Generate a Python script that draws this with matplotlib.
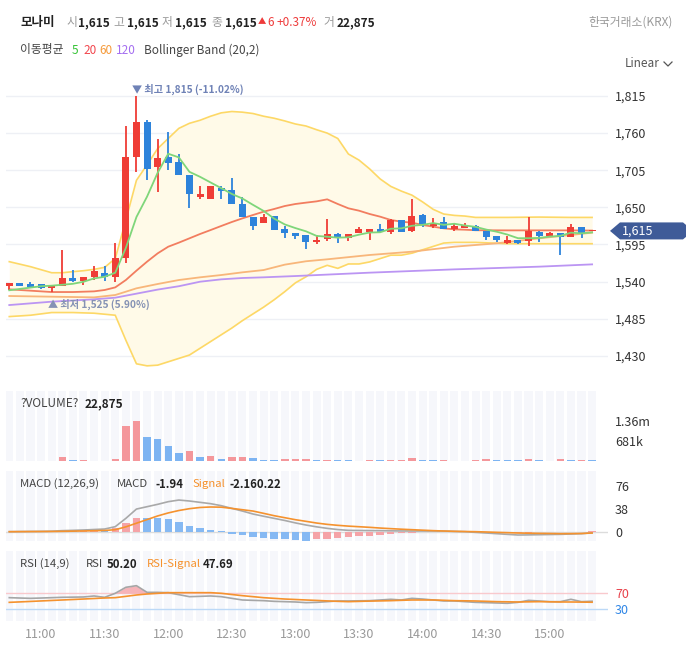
import matplotlib
matplotlib.use('Agg')
import matplotlib.pyplot as plt
import numpy as np
import pandas as pd
from matplotlib.patches import Polygon
from matplotlib.lines import Line2D
from matplotlib.transforms import IdentityTransform

plt.rcParams['font.family'] = ['Noto Sans CJK KR', 'DejaVu Sans']

# ---------------- data ----------------
times = ['11:00', '11:30', '12:00', '12:30', '13:00', '13:30', '14:00', '14:30', '15:00']
time_idx = [3, 9, 15, 21, 27, 33, 39, 45, 51]

opens = [1534, 1538, 1536, 1536, 1530, 1534, 1545, 1541, 1546, 1553,
         1547, 1575, 1724, 1776, 1709, 1725, 1717, 1698, 1665, 1662,
         1678, 1676, 1655, 1636, 1627, 1637, 1618, 1612, 1609, 1599,
         1603, 1611, 1605, 1612, 1613, 1618, 1613, 1631, 1615, 1639,
         1622, 1628, 1618, 1620, 1622, 1615, 1607, 1597, 1601, 1600,
         1613, 1607, 1612, 1606, 1621, 1615]
highs = [1538, 1538, 1539, 1536, 1534, 1587, 1557, 1547, 1563, 1563,
         1597, 1771, 1815, 1779, 1751, 1762, 1729, 1698, 1682, 1682,
         1682, 1694, 1665, 1636, 1640, 1637, 1622, 1612, 1609, 1609,
         1632, 1612, 1611, 1621, 1618, 1625, 1633, 1631, 1662, 1640,
         1634, 1636, 1625, 1627, 1624, 1615, 1607, 1608, 1601, 1635,
         1615, 1614, 1612, 1625, 1621, 1615]
lows = [1528, 1534, 1532, 1529, 1525, 1534, 1539, 1535, 1542, 1541,
        1540, 1567, 1702, 1691, 1673, 1705, 1698, 1649, 1662, 1662,
        1663, 1655, 1635, 1617, 1627, 1617, 1605, 1603, 1588, 1595,
        1600, 1597, 1600, 1612, 1601, 1613, 1611, 1614, 1613, 1621,
        1620, 1618, 1615, 1620, 1615, 1601, 1599, 1595, 1595, 1592,
        1599, 1607, 1580, 1606, 1604, 1615]
closes = [1538, 1534, 1532, 1531, 1534, 1545, 1541, 1547, 1556, 1546,
          1575, 1725, 1776, 1707, 1723, 1716, 1698, 1669, 1670, 1681,
          1674, 1655, 1635, 1623, 1636, 1617, 1612, 1608, 1599, 1602,
          1611, 1605, 1611, 1618, 1618, 1613, 1631, 1614, 1637, 1625,
          1626, 1618, 1622, 1624, 1615, 1606, 1602, 1601, 1597, 1615,
          1608, 1612, 1606, 1621, 1610, 1615]
ma5_head = [1527, 1529, 1531, 1533]

bb_idx = [0, 2, 4, 5, 6, 7, 8, 9] + list(range(10, 45)) + [47, 50, 53, 55]
bb_upper = [1569.4, 1562, 1553, 1553, 1554.6, 1556, 1558, 1561,
            1574, 1631, 1690, 1713, 1737, 1752, 1767, 1774.5, 1779, 1785,
            1790, 1792, 1791, 1789, 1785, 1782, 1778, 1773.5, 1770.5, 1765,
            1760, 1752, 1729, 1720, 1707, 1692, 1681, 1674, 1668, 1658,
            1647, 1640, 1638, 1637, 1635,
            1635, 1635.5, 1635, 1635]
bb_lower = [1488, 1490, 1494, 1494, 1494, 1493.5, 1493, 1491.5,
            1490, 1453, 1418, 1415, 1416, 1421, 1426, 1431, 1441, 1451,
            1461, 1471, 1482, 1492, 1502, 1513, 1525, 1538, 1547, 1558,
            1564, 1559.5, 1566, 1566, 1569, 1574, 1579, 1579, 1582, 1587,
            1592, 1597, 1598, 1598, 1598,
            1596, 1596, 1596, 1596]

ma20_idx = [0, 2, 4, 6, 8, 9] + list(range(10, 45)) + [47, 50, 53, 55]
ma20 = [1528.4, 1526.4, 1524.4, 1524.4, 1525.4, 1527.4,
        1531.3, 1542.2, 1556.1, 1569.4, 1581.7, 1591.6, 1597.6, 1604, 1610.4, 1616.3,
        1622.3, 1628.2, 1633.6, 1638.6, 1643.5, 1647.5, 1651.9, 1654.9, 1656.9, 1658.8,
        1661.8, 1654.9, 1648.5, 1645, 1640.1, 1636.1, 1631.2, 1628.7, 1627.2, 1623.8,
        1621.3, 1618.8, 1617.3, 1616.8, 1616,
        1615.8, 1615.8, 1615.8, 1615.5]

ma60_idx = [0, 4, 8, 10, 11, 12, 14, 16, 18, 20, 22, 24, 26, 28, 30, 34, 38, 42, 46, 50, 53, 55]
ma60 = [1518.5, 1517.5, 1516.5, 1520, 1524.9, 1529.9, 1536.3, 1542.2, 1546.2, 1549.6, 1553.6,
        1557, 1565, 1570, 1572.9, 1579.3, 1584.2, 1591.6, 1596.6, 1604, 1609, 1612.4]

ma120_idx = [0, 4, 8, 10, 12, 14, 16, 18, 20, 22, 24, 27, 34, 42, 50, 55]
ma120 = [1505.1, 1510.1, 1513.6, 1516, 1522, 1528, 1533, 1539.7, 1543.2, 1545.2, 1546.2,
         1548.1, 1553.1, 1558, 1562, 1565.4]

volume_k = [0, 0, 0, 0, 0, 125, 23, 25, 0, 0,
            57, 1180, 1350, 806, 760, 499, 284, 352, 125, 159,
            57, 125, 128, 92, 23, 20, 57, 58, 59, 22,
            25, 20, 18, 0, 24, 22, 24, 26, 90, 25,
            20, 24, 0, 0, 22, 57, 25, 22, 20, 57,
            25, 0, 57, 22, 24, 22.875]

macd_hist = [0.3, 0.4, 0.3, 0.2, 0.5, 1.8, 1.5, 1.8, 2.2, 2.0,
             5.5, 13.8, 23.1, 22.8, 22.0, 20.9, 16.5, 9.4, 6.6, 3.3,
             0.6, -3.3, -5.5, -8.8, -10.5, -12.1, -12.7, -13.2, -14.9, -12.1,
             -12.0, -11.0, -8.8, -7.2, -6.6, -5.5, -3.9, -2.8, -1.8, -1.0,
             -0.5, -0.2, 0.2, 0.4, -0.6, -1.4, -1.8, -2.0, -1.9, -1.5,
             -1.2, -1.0, -0.8, -0.3, 0.1, 0.5]
macd_line = [0, 0.2, 0.4, 0.5, 0.8, 1.7, 2.2, 2.8, 3.6, 4.4,
             8.3, 22, 37.4, 41.3, 45.2, 49.6, 52.3, 50.7, 48.5, 46.3,
             43, 38.5, 34.1, 29.2, 25.5, 22, 18.5, 14.5, 11, 8,
             5.5, 3.5, 2.2, 2.0, 1.8, 1.7, 1.4, 1.2, 1.1, 1.1,
             1.1, 1.0, 0.5, 0, -1.1, -2.2, -3.3, -4.4, -5.5, -5.3,
             -5.0, -4.7, -4.4, -3.9, -3.3, -1.94]
macd_signal = [0, 0.1, 0.2, 0.3, 0.4, 0.6, 0.9, 1.2, 1.6, 2.0,
               3.3, 8, 14, 20, 26, 31, 35, 38, 40, 40.8,
               40.5, 38.5, 36.3, 34.1, 30.3, 26.4, 23.1, 19.8, 17.1, 14.3,
               12.1, 10.5, 9.2, 8.2, 7.2, 6.0, 5.0, 4.1, 3.3, 2.5,
               1.7, 1.1, 0.6, 0.3, 0, -0.5, -1.1, -1.6, -2.2, -2.5,
               -2.8, -3.0, -3.3, -3.2, -3.0, -2.16]

rsi = [59.1, 58.2, 57.4, 58.2, 59.1, 60, 60.4, 60.8, 63.3, 60,
       70, 85, 89.1, 72.4, 72.4, 71.6, 66.6, 61.6, 62.4, 63.3,
       61.6, 57.4, 53.3, 52.4, 51.6, 49.9, 49.1, 48.3, 46.6, 47.4,
       49.1, 50.8, 50.8, 51.2, 51.6, 53.3, 55, 53.3, 57.4, 55.7,
       53.3, 50.8, 50.8, 49.1, 47.4, 46.6, 45.8, 45, 47.4, 52.4,
       50.8, 49.1, 49.1, 55, 49.1, 50.2]
rsi_signal = [47.4, 48.5, 49.7, 50.9, 52.1, 53.3, 54.5, 55.7, 57, 58.3,
              59.1, 62.4, 65.8, 68.3, 70, 71.6, 71.6, 71.6, 71.6, 71.6,
              70, 67, 64.1, 61.6, 59.1, 57.4, 55.7, 54.5, 53.3, 52.2,
              51, 49.9, 49.1, 49.8, 50.5, 51, 51.6, 52.5, 53.3, 53.3,
              53.3, 52.5, 51.6, 51.2, 50.8, 50, 49.1, 48.7, 48.3, 48.7,
              49.1, 48.7, 48.3, 48.3, 48, 47.69]

price_ticks = [1430, 1485, 1540, 1595, 1650, 1705, 1760, 1815]
vol_ticks = [681, 1360]
vol_tick_labels = ['681k', '1.36m']
macd_ticks = [0, 38, 76]

# ---------------- figure ----------------
W, H = 692, 660
fig = plt.figure(figsize=(W / 100, H / 100), dpi=100)
fig.patch.set_facecolor('white')

def px_axes(l, t, r, b):
    a = fig.add_axes([l / W, 1 - b / H, (r - l) / W, (b - t) / H])
    for s in a.spines.values():
        s.set_visible(False)
    a.set_facecolor('none')
    return a

def ftext(x, y, s, **kw):
    kw.setdefault('va', 'center')
    kw.setdefault('fontsize', 8.5)
    fig.text(x / W, 1 - y / H, s, **kw)

N = len(closes)
idx = np.arange(N)
XL = (-0.31, 56.5)

RED = '#ef3d36'
BLUE = '#2d83db'

# ---- main price panel ----
ax = px_axes(6, 80, 608, 380)
ax.set_xlim(*XL)
ax.set_ylim(1394, 1838.7)
ax.set_yticks(price_ticks)
ax.set_yticklabels([f'{v:,}' for v in price_ticks])
ax.yaxis.tick_right()
ax.tick_params(axis='y', length=0, pad=5, labelsize=9, labelcolor='#333333')
ax.set_xticks([])
ax.grid(axis='y', color='#eef0f5', lw=1)
ax.set_axisbelow(True)

ax.fill_between(bb_idx, bb_lower, bb_upper, color='#fffae8', zorder=1, lw=0)
ax.plot(bb_idx, bb_upper, color='#fdd866', lw=1.2, zorder=2)
ax.plot(bb_idx, bb_lower, color='#fdd866', lw=1.2, zorder=2)
ax.plot(ma120_idx, ma120, color='#bb95f3', lw=1.3, zorder=2)
ax.plot(ma60_idx, ma60, color='#f8b67a', lw=1.3, zorder=2)
ax.plot(ma20_idx, ma20, color='#f27d5f', lw=1.3, zorder=2)

ma5 = pd.Series(closes).rolling(5).mean().to_numpy()
ma5[:4] = ma5_head
ax.plot(idx, ma5, color='#7fd67a', lw=1.3, zorder=4)

for i in range(N):
    o, h, l, c = opens[i], highs[i], lows[i], closes[i]
    up = c >= o
    col = RED if up else BLUE
    ax.vlines(i, l, h, color=col, lw=1.3, zorder=3)
    body = max(abs(c - o), 1.0)
    ax.bar(i, body, bottom=min(o, c), width=0.66, color=col, zorder=3, lw=0)

imax = int(np.argmax(highs))
imin = int(np.argmin(lows))
last = closes[-1]
ax.annotate(f'▼ 최고 {highs[imax]:,} ({(last / highs[imax] - 1) * 100:.2f}%)',
            xy=(imax, highs[imax]), xytext=(-3.5, 4.5), textcoords='offset points',
            ha='left', va='center', fontsize=7.3, color='#6f82b6', fontweight='bold')
ax.annotate(f'▲ 최저 {lows[imin]:,} ({(last / lows[imin] - 1) * 100:.2f}%)',
            xy=(imin, lows[imin]), xytext=(-2.5, -9), textcoords='offset points',
            ha='left', va='center', fontsize=7.3, color='#8592b4', fontweight='bold')

# ---- volume panel ----
axv = px_axes(6, 391, 608, 461)
axv.set_xlim(*XL)
vtop = 2383
axv.set_ylim(0, vtop)
axv.bar(idx, [vtop] * N, width=0.76, color='#f6f7fb', zorder=0, lw=0)
vcols = []
for i in range(N):
    prev = volume_k[i - 1] if i > 0 else 0
    vcols.append('#f4979b' if volume_k[i] > prev else '#7db4f2')
axv.bar(idx, volume_k, width=0.7, color=vcols, zorder=2, lw=0)
axv.set_yticks(vol_ticks)
axv.set_yticklabels(vol_tick_labels)
axv.yaxis.tick_right()
axv.tick_params(axis='y', length=0, pad=5, labelsize=9, labelcolor='#333333')
axv.set_xticks([])

# ---- MACD panel ----
axm = px_axes(6, 471, 608, 541)
axm.set_xlim(*XL)
axm.set_ylim(-15.4, 100.3)
axm.bar(idx, [115.7] * N, bottom=-15.4, width=0.76, color='#f6f7fb', zorder=0, lw=0)
axm.axhline(0, color='#dcdcdc', lw=1, zorder=1)
hcols = []
for i in range(N):
    prev = macd_hist[i - 1] if i > 0 else 0
    hcols.append('#f5a3a7' if macd_hist[i] > prev else '#86b9f3')
axm.bar(idx, macd_hist, width=0.7, color=hcols, zorder=2, lw=0)
axm.plot(idx, macd_line, color='#a9a9a9', lw=1.2, zorder=3)
axm.plot(idx, macd_signal, color='#f5922e', lw=1.2, zorder=3)
axm.set_yticks(macd_ticks)
axm.yaxis.tick_right()
axm.tick_params(axis='y', length=0, pad=5, labelsize=9, labelcolor='#333333')
axm.set_xticks([])

# ---- RSI panel ----
axr = px_axes(6, 551, 608, 621)
axr.set_xlim(*XL)
axr.set_ylim(0.75, 175.8)
axr.bar(idx, [175.05] * N, bottom=0.75, width=0.76, color='#f6f7fb', zorder=0, lw=0)
axr.axhline(70, color='#f9c9cd', lw=1, zorder=1)
axr.axhline(30, color='#bcd9f7', lw=1, zorder=1)
r = np.array(rsi)
axr.fill_between(idx, r, 70, where=r > 70, interpolate=True, color='#f6b3b8', zorder=2, lw=0)
axr.plot(idx, rsi, color='#a6a6a6', lw=1.2, zorder=3)
axr.plot(idx, rsi_signal, color='#f5922e', lw=1.2, zorder=3)
axr.set_yticks([70, 30])
axr.set_yticklabels(['70', '30'])
axr.yaxis.tick_right()
axr.tick_params(axis='y', length=0, pad=5, labelsize=9)
for lab, c in zip(axr.get_yticklabels(), ['#e8414a', '#2f86e6']):
    lab.set_color(c)
axr.set_xticks(time_idx)
axr.set_xticklabels(times)
axr.tick_params(axis='x', length=0, pad=5, labelsize=9, labelcolor='#999999')

# ---------------- header texts ----------------
dark = '#222222'
grey = '#999999'
up_red = '#ee3b3b'
y1 = 22.5
ftext(20, y1, '모나미', color=dark, fontweight='bold', fontsize=9)
ftext(66, y1, '시', color=grey)
ftext(78, y1, f'{opens[-1]:,}', color=dark, fontweight='bold')
ftext(113, y1, '고', color=grey)
ftext(127, y1, f'{highs[-1]:,}', color=dark, fontweight='bold')
ftext(162, y1, '저', color=grey)
ftext(175, y1, f'{lows[-1]:,}', color=dark, fontweight='bold')
ftext(211, y1, '종', color=grey)
ftext(225, y1, f'{closes[-1]:,}', color=dark, fontweight='bold')
ftext(258, y1 - 0.5, '▲', color=up_red, fontsize=6)
ftext(267, y1, '6', color=up_red)
ftext(277, y1, '+0.37%', color=up_red)
ftext(323, y1, '거', color=grey)
ftext(337, y1, '22,875', color=dark, fontweight='bold')
ftext(673, y1, '한국거래소(KRX)', color='#9a9a9a', ha='right', fontsize=8.5)

y2 = 50
ftext(20, y2, '이동평균', color='#444444')
ftext(72, y2, '5', color='#35c335')
ftext(83, y2, '20', color='#f2464d')
ftext(99, y2, '60', color='#f59a3a')
ftext(116, y2, '120', color='#a46ef0')
ftext(144, y2, 'Bollinger Band (20,2)', color='#444444')

ftext(625, 63.5, 'Linear', color='#555555', fontsize=8.5)
fig.add_artist(Line2D([664 / W, 668 / W, 672 / W], [1 - 62 / H, 1 - 66 / H, 1 - 62 / H],
                      transform=fig.transFigure, color='#555555', lw=0.9))

# panel titles
ftext(20, 404, '?VOLUME?', color='#444444')
ftext(85, 404, '22,875', color=dark, fontweight='bold')

ftext(20, 484, 'MACD (12,26,9)', color='#444444', fontsize=8.2)
ftext(117, 484, 'MACD', color='#444444', fontsize=8.2)
ftext(156, 484, f'{macd_line[-1]:.2f}', color=dark, fontweight='bold', fontsize=8.2)
ftext(193, 484, 'Signal', color='#f5922e', fontsize=8.2)
ftext(229, 484, f'{macd_signal[-1]:.2f}{macd_line[-1] - macd_signal[-1]:.2f}', color=dark,
      fontweight='bold', fontsize=8.2)

ftext(20, 564, 'RSI (14,9)', color='#444444', fontsize=8.2)
ftext(86, 564, 'RSI', color='#444444', fontsize=8.2)
ftext(107, 564, f'{rsi[-1]:.2f}', color=dark, fontweight='bold', fontsize=8.2)
ftext(147, 564, 'RSI-Signal', color='#f5922e', fontsize=8.2)
ftext(203, 564, f'{rsi_signal[-1]:.2f}', color=dark, fontweight='bold', fontsize=8.2)

# ---------------- last price tag ----------------
fig.canvas.draw()
yd = ax.transData.transform((0, last))[1]
tag = Polygon([(610, yd), (620, yd + 8.5), (683, yd + 8.5), (686, yd + 6), (686, yd - 6),
               (683, yd - 8.5), (620, yd - 8.5)], closed=True,
              transform=IdentityTransform(), facecolor='#3f5b98', edgecolor='none')
fig.add_artist(tag)
fig.text(622 / W, yd / H, f'{last:,}', color='white', fontsize=9, va='center', ha='left')

fig.savefig('out.png', dpi=100, facecolor='white')
